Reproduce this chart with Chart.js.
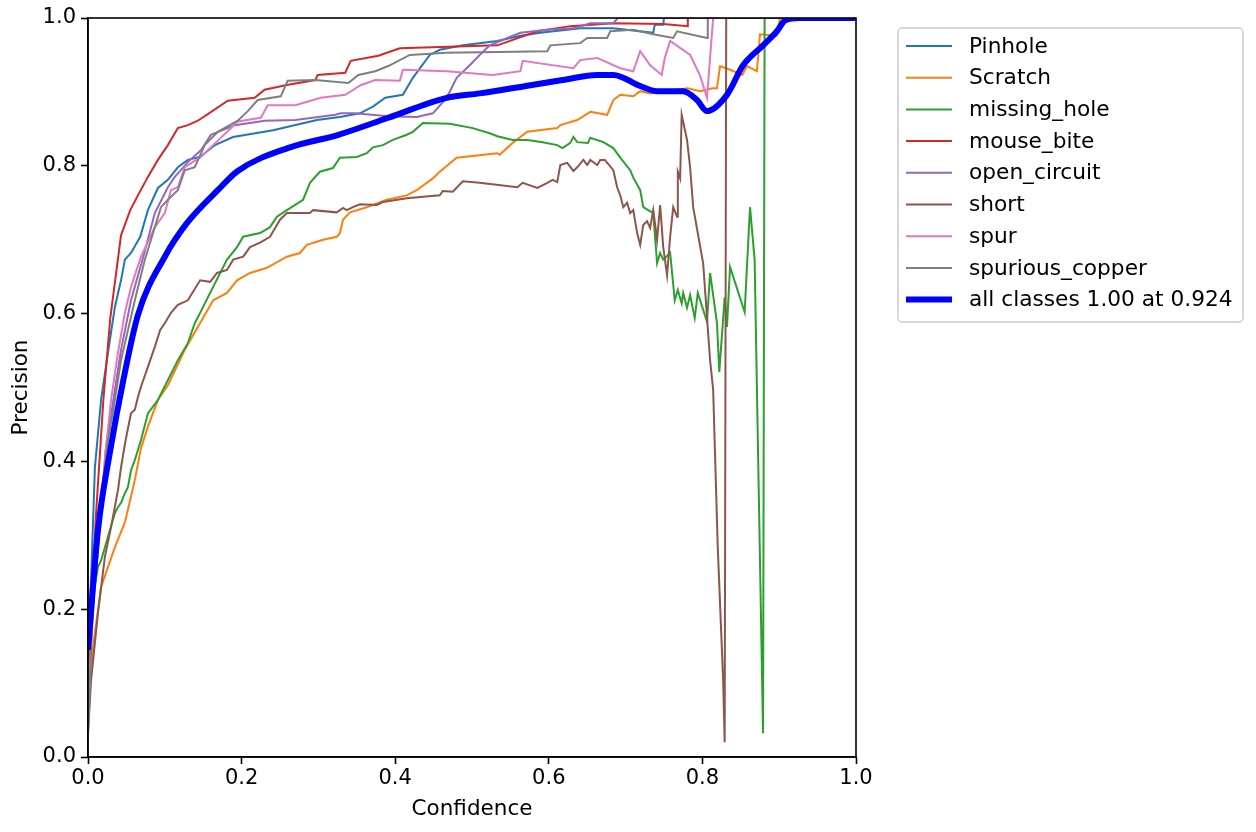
<!DOCTYPE html>
<html>
<head>
<meta charset="utf-8">
<script src="https://cdn.jsdelivr.net/npm/chart.js@4.4.1/dist/chart.umd.min.js"></script>
<style>
  html, body { margin: 0; padding: 0; background: #fff; }
  #wrap { width: 1256px; height: 832px; }
</style>
</head>
<body>
<div id="wrap"><canvas id="prChart" width="1256" height="832"></canvas></div>
<script>
// tick values shared by both axes
var tickValues = [0, 0.2, 0.4, 0.6, 0.8, 1.0];

var classNames = ["Pinhole", "Scratch", "missing_hole", "mouse_bite", "open_circuit", "short", "spur", "spurious_copper"];
var classColors = ["#1f77b4", "#ff7f0e", "#2ca02c", "#d62728", "#9467bd", "#8c564b", "#e377c2", "#7f7f7f"];
var allLabel = "all classes 1.00 at 0.924";

// [confidence, precision]
var pinhole = [[0,0.158],[0.004,0.24],[0.009,0.392],[0.017,0.483],[0.026,0.547],[0.035,0.609],[0.043,0.645],[0.048,0.673],[0.056,0.682],[0.068,0.704],[0.078,0.74],[0.091,0.77],[0.104,0.781],[0.117,0.798],[0.13,0.808],[0.146,0.812],[0.165,0.828],[0.189,0.839],[0.241,0.848],[0.298,0.862],[0.328,0.866],[0.354,0.871],[0.371,0.88],[0.387,0.892],[0.41,0.896],[0.423,0.919],[0.445,0.95],[0.458,0.957],[0.488,0.963],[0.533,0.969],[0.563,0.976],[0.589,0.98],[0.641,0.986],[0.684,0.986],[0.736,0.98],[0.738,0.991],[0.749,0.991],[0.75,1],[1,1]];

var scratch = [[0,0.08],[0.003,0.118],[0.009,0.168],[0.017,0.23],[0.026,0.257],[0.035,0.284],[0.048,0.317],[0.055,0.348],[0.061,0.375],[0.069,0.418],[0.078,0.447],[0.091,0.483],[0.104,0.503],[0.126,0.551],[0.143,0.582],[0.163,0.618],[0.181,0.628],[0.194,0.645],[0.211,0.655],[0.233,0.662],[0.259,0.677],[0.276,0.682],[0.285,0.693],[0.306,0.7],[0.324,0.704],[0.328,0.709],[0.332,0.727],[0.341,0.737],[0.363,0.744],[0.389,0.754],[0.415,0.76],[0.428,0.767],[0.449,0.783],[0.458,0.792],[0.48,0.811],[0.533,0.817],[0.536,0.815],[0.553,0.831],[0.572,0.846],[0.611,0.851],[0.615,0.855],[0.637,0.862],[0.654,0.873],[0.676,0.869],[0.684,0.889],[0.693,0.896],[0.71,0.894],[0.719,0.901],[0.732,0.898],[0.781,0.905],[0.797,0.901],[0.813,0.905],[0.819,0.905],[0.823,0.935],[0.836,0.93],[0.852,0.923],[0.858,0.935],[0.871,0.928],[0.875,0.978],[0.897,0.976],[0.901,1],[1,1]];

var missingHole = [[0,0.07],[0.004,0.212],[0.009,0.232],[0.013,0.257],[0.017,0.266],[0.026,0.298],[0.035,0.33],[0.039,0.338],[0.043,0.344],[0.048,0.357],[0.052,0.365],[0.056,0.388],[0.061,0.402],[0.069,0.429],[0.078,0.465],[0.091,0.483],[0.104,0.51],[0.117,0.537],[0.13,0.56],[0.139,0.587],[0.146,0.601],[0.159,0.628],[0.181,0.673],[0.194,0.69],[0.202,0.704],[0.224,0.709],[0.237,0.717],[0.246,0.731],[0.259,0.74],[0.28,0.754],[0.289,0.777],[0.302,0.792],[0.319,0.797],[0.328,0.811],[0.35,0.812],[0.363,0.817],[0.371,0.825],[0.384,0.828],[0.397,0.835],[0.415,0.842],[0.423,0.846],[0.436,0.858],[0.471,0.857],[0.501,0.851],[0.523,0.844],[0.533,0.84],[0.553,0.835],[0.572,0.835],[0.592,0.832],[0.611,0.828],[0.618,0.824],[0.628,0.831],[0.632,0.839],[0.637,0.832],[0.651,0.831],[0.654,0.838],[0.671,0.832],[0.684,0.824],[0.693,0.811],[0.706,0.794],[0.71,0.784],[0.719,0.767],[0.723,0.744],[0.736,0.736],[0.741,0.668],[0.745,0.682],[0.749,0.673],[0.758,0.682],[0.764,0.618],[0.768,0.632],[0.773,0.614],[0.775,0.628],[0.78,0.608],[0.784,0.625],[0.79,0.594],[0.794,0.628],[0.806,0.589],[0.81,0.655],[0.819,0.587],[0.822,0.521],[0.829,0.622],[0.832,0.582],[0.836,0.663],[0.855,0.602],[0.862,0.744],[0.868,0.673],[0.879,0.032],[0.881,1],[1,1]];

var mouseBite = [[0.001,0.131],[0.01,0.321],[0.02,0.483],[0.029,0.594],[0.043,0.706],[0.055,0.74],[0.065,0.76],[0.078,0.785],[0.091,0.808],[0.104,0.828],[0.117,0.851],[0.13,0.855],[0.143,0.861],[0.156,0.87],[0.182,0.888],[0.217,0.892],[0.23,0.903],[0.257,0.909],[0.296,0.916],[0.299,0.923],[0.335,0.926],[0.342,0.942],[0.378,0.949],[0.406,0.959],[0.533,0.963],[0.585,0.982],[0.628,0.989],[0.684,0.993],[0.749,0.992],[0.781,0.989],[0.781,1],[1,1]];

var openCircuit = [[0,0.05],[0.005,0.185],[0.016,0.321],[0.023,0.415],[0.033,0.483],[0.043,0.551],[0.056,0.618],[0.072,0.677],[0.087,0.736],[0.104,0.771],[0.113,0.785],[0.13,0.805],[0.147,0.821],[0.16,0.842],[0.191,0.855],[0.23,0.861],[0.27,0.862],[0.322,0.869],[0.329,0.871],[0.348,0.871],[0.391,0.867],[0.428,0.866],[0.449,0.871],[0.467,0.892],[0.48,0.919],[0.497,0.936],[0.51,0.95],[0.523,0.963],[0.546,0.973],[0.563,0.98],[0.598,0.984],[0.632,0.986],[0.654,0.993],[0.684,0.993],[0.69,1],[1,1]];

var shortDef = [[0,0.032],[0.004,0.104],[0.013,0.195],[0.022,0.271],[0.03,0.311],[0.039,0.361],[0.043,0.392],[0.049,0.429],[0.056,0.465],[0.061,0.47],[0.065,0.487],[0.069,0.501],[0.078,0.528],[0.087,0.555],[0.094,0.578],[0.1,0.587],[0.108,0.601],[0.117,0.612],[0.13,0.618],[0.146,0.645],[0.159,0.643],[0.168,0.655],[0.181,0.659],[0.189,0.673],[0.202,0.677],[0.211,0.69],[0.224,0.696],[0.237,0.704],[0.25,0.727],[0.259,0.736],[0.289,0.736],[0.293,0.74],[0.324,0.737],[0.332,0.743],[0.337,0.74],[0.345,0.744],[0.354,0.748],[0.376,0.747],[0.384,0.751],[0.415,0.756],[0.458,0.76],[0.462,0.766],[0.475,0.765],[0.488,0.779],[0.51,0.777],[0.559,0.771],[0.566,0.777],[0.585,0.77],[0.598,0.777],[0.605,0.781],[0.611,0.778],[0.615,0.801],[0.624,0.804],[0.632,0.793],[0.637,0.798],[0.645,0.808],[0.65,0.801],[0.654,0.808],[0.663,0.801],[0.667,0.808],[0.673,0.808],[0.684,0.794],[0.689,0.771],[0.693,0.76],[0.697,0.744],[0.702,0.75],[0.706,0.736],[0.71,0.74],[0.715,0.709],[0.719,0.693],[0.723,0.72],[0.728,0.725],[0.732,0.716],[0.736,0.74],[0.741,0.7],[0.745,0.747],[0.749,0.69],[0.754,0.652],[0.758,0.704],[0.762,0.744],[0.767,0.731],[0.768,0.792],[0.771,0.783],[0.773,0.869],[0.78,0.835],[0.784,0.798],[0.788,0.744],[0.801,0.668],[0.81,0.537],[0.814,0.497],[0.82,0.284],[0.827,0.104],[0.829,0.02],[0.831,1],[1,1]];

var spur = [[0,0.037],[0.005,0.185],[0.016,0.321],[0.023,0.415],[0.03,0.483],[0.039,0.547],[0.048,0.601],[0.056,0.636],[0.069,0.677],[0.087,0.717],[0.1,0.736],[0.108,0.767],[0.117,0.771],[0.126,0.798],[0.147,0.812],[0.165,0.83],[0.195,0.86],[0.225,0.865],[0.234,0.882],[0.27,0.882],[0.303,0.892],[0.335,0.896],[0.355,0.909],[0.374,0.916],[0.406,0.915],[0.41,0.93],[0.467,0.928],[0.527,0.923],[0.563,0.928],[0.566,0.942],[0.632,0.932],[0.641,0.943],[0.663,0.946],[0.693,0.932],[0.71,0.928],[0.719,0.955],[0.732,0.936],[0.747,0.923],[0.751,0.946],[0.758,0.969],[0.784,0.95],[0.797,0.922],[0.806,0.892],[0.814,1],[1,1]];

var spuriousCopper = [[0,0.03],[0.004,0.145],[0.01,0.267],[0.017,0.348],[0.026,0.429],[0.035,0.483],[0.043,0.537],[0.061,0.618],[0.074,0.673],[0.087,0.717],[0.095,0.744],[0.104,0.754],[0.117,0.767],[0.126,0.794],[0.139,0.798],[0.152,0.828],[0.169,0.846],[0.195,0.861],[0.208,0.874],[0.221,0.889],[0.251,0.894],[0.26,0.915],[0.296,0.916],[0.339,0.912],[0.352,0.923],[0.374,0.928],[0.391,0.935],[0.419,0.95],[0.467,0.953],[0.598,0.955],[0.602,0.963],[0.641,0.966],[0.65,0.973],[0.676,0.973],[0.68,0.982],[0.71,0.984],[0.736,0.978],[0.762,0.973],[0.767,0.982],[0.806,0.973],[0.807,1],[1,1]];

var allClasses = [[0,0.145],[0.013,0.307],[0.029,0.415],[0.046,0.51],[0.065,0.598],[0.1,0.677],[0.13,0.724],[0.169,0.767],[0.195,0.793],[0.26,0.824],[0.326,0.842],[0.391,0.865],[0.467,0.892],[0.51,0.898],[0.576,0.909],[0.618,0.916],[0.663,0.923],[0.684,0.923],[0.719,0.908],[0.741,0.901],[0.775,0.901],[0.793,0.889],[0.806,0.874],[0.832,0.896],[0.853,0.936],[0.879,0.963],[0.897,0.982],[0.908,0.997],[0.927,1],[1,1]];

var classSeries = [pinhole, scratch, missingHole, mouseBite, openCircuit, shortDef, spur, spuriousCopper];

function toPoints(arr) {
  return arr.map(function (p) { return { x: p[0], y: p[1] }; });
}

var datasets = classSeries.map(function (s, i) {
  return {
    label: classNames[i],
    data: toPoints(s),
    borderColor: classColors[i],
    borderWidth: 2,
    pointRadius: 0,
    tension: 0,
    order: classSeries.length - i
  };
});
datasets.push({
  label: allLabel,
  data: toPoints(allClasses),
  borderColor: "#0000ff",
  borderWidth: 6,
  pointRadius: 0,
  cubicInterpolationMode: "monotone",
  order: 0
});

var FONT = "'DejaVu Sans', sans-serif";

// frame on all four sides, like the matplotlib axes box
var framePlugin = {
  id: "frame",
  afterDatasetsDraw: function (chart) {
    var a = chart.chartArea, c = chart.ctx;
    c.save();
    c.strokeStyle = "#000";
    c.lineWidth = 1.6;
    c.strokeRect(a.left, a.top, a.right - a.left, a.bottom - a.top);
    c.restore();
  }
};

// legend box outside the plot on the right
var legendPlugin = {
  id: "sideLegend",
  afterDraw: function (chart) {
    var c = chart.ctx;
    var x0 = 898, y0 = 28, w = 345, h = 294, rowH = 31.7;
    c.save();
    c.fillStyle = "rgba(255,255,255,0.8)";
    c.strokeStyle = "#cccccc";
    c.lineWidth = 1.5;
    c.beginPath();
    c.roundRect(x0, y0, w, h, 4);
    c.fill();
    c.stroke();
    c.font = "21.7px " + FONT;
    c.textBaseline = "middle";
    chart.data.datasets.forEach(function (ds, i) {
      var y = 46 + i * rowH;
      c.strokeStyle = ds.borderColor;
      c.lineWidth = ds.borderWidth;
      c.beginPath();
      c.moveTo(906, y);
      c.lineTo(952, y);
      c.stroke();
      c.fillStyle = "#000";
      c.fillText(ds.label, 969, y + 1);
    });
    c.restore();
  }
};

var ctx = document.getElementById("prChart").getContext("2d");
var myChart = new Chart(ctx, {
  type: "line",
  data: { datasets: datasets },
  options: {
    responsive: false,
    animation: false,
    devicePixelRatio: 1,
    layout: { padding: { left: 0, top: 18, right: 400, bottom: 0 } },
    plugins: { legend: { display: false }, tooltip: { enabled: false } },
    scales: {
      x: {
        type: "linear",
        min: 0,
        max: 1,
        afterBuildTicks: function (scale) {
          scale.ticks = tickValues.map(function (v) { return { value: v }; });
        },
        afterFit: function (scale) { scale.height = 75; },
        ticks: {
          color: "#000",
          font: { family: FONT, size: 21 },
          padding: 2,
          maxRotation: 0,
          callback: function (v) { return Number(v).toFixed(1); }
        },
        grid: { drawOnChartArea: false, drawTicks: true, tickLength: 7, tickWidth: 1.6, color: "#000" },
        border: { display: true, color: "#000", width: 1.6 },
        title: { display: true, text: "Confidence", color: "#000", font: { family: FONT, size: 21.5 }, padding: { top: 0, bottom: 10 } }
      },
      y: {
        type: "linear",
        min: 0,
        max: 1,
        afterBuildTicks: function (scale) {
          scale.ticks = tickValues.map(function (v) { return { value: v }; });
        },
        afterFit: function (scale) { scale.width = 88; },
        ticks: {
          color: "#000",
          font: { family: FONT, size: 21 },
          padding: 5,
          callback: function (v) { return Number(v).toFixed(1); }
        },
        grid: { drawOnChartArea: false, drawTicks: true, tickLength: 7, tickWidth: 1.6, color: "#000" },
        border: { display: true, color: "#000", width: 1.6 },
        title: { display: true, text: "Precision", color: "#000", font: { family: FONT, size: 21.5 }, padding: { top: 9, bottom: 0 } }
      }
    }
  },
  plugins: [framePlugin, legendPlugin]
});
</script>
</body>
</html>
